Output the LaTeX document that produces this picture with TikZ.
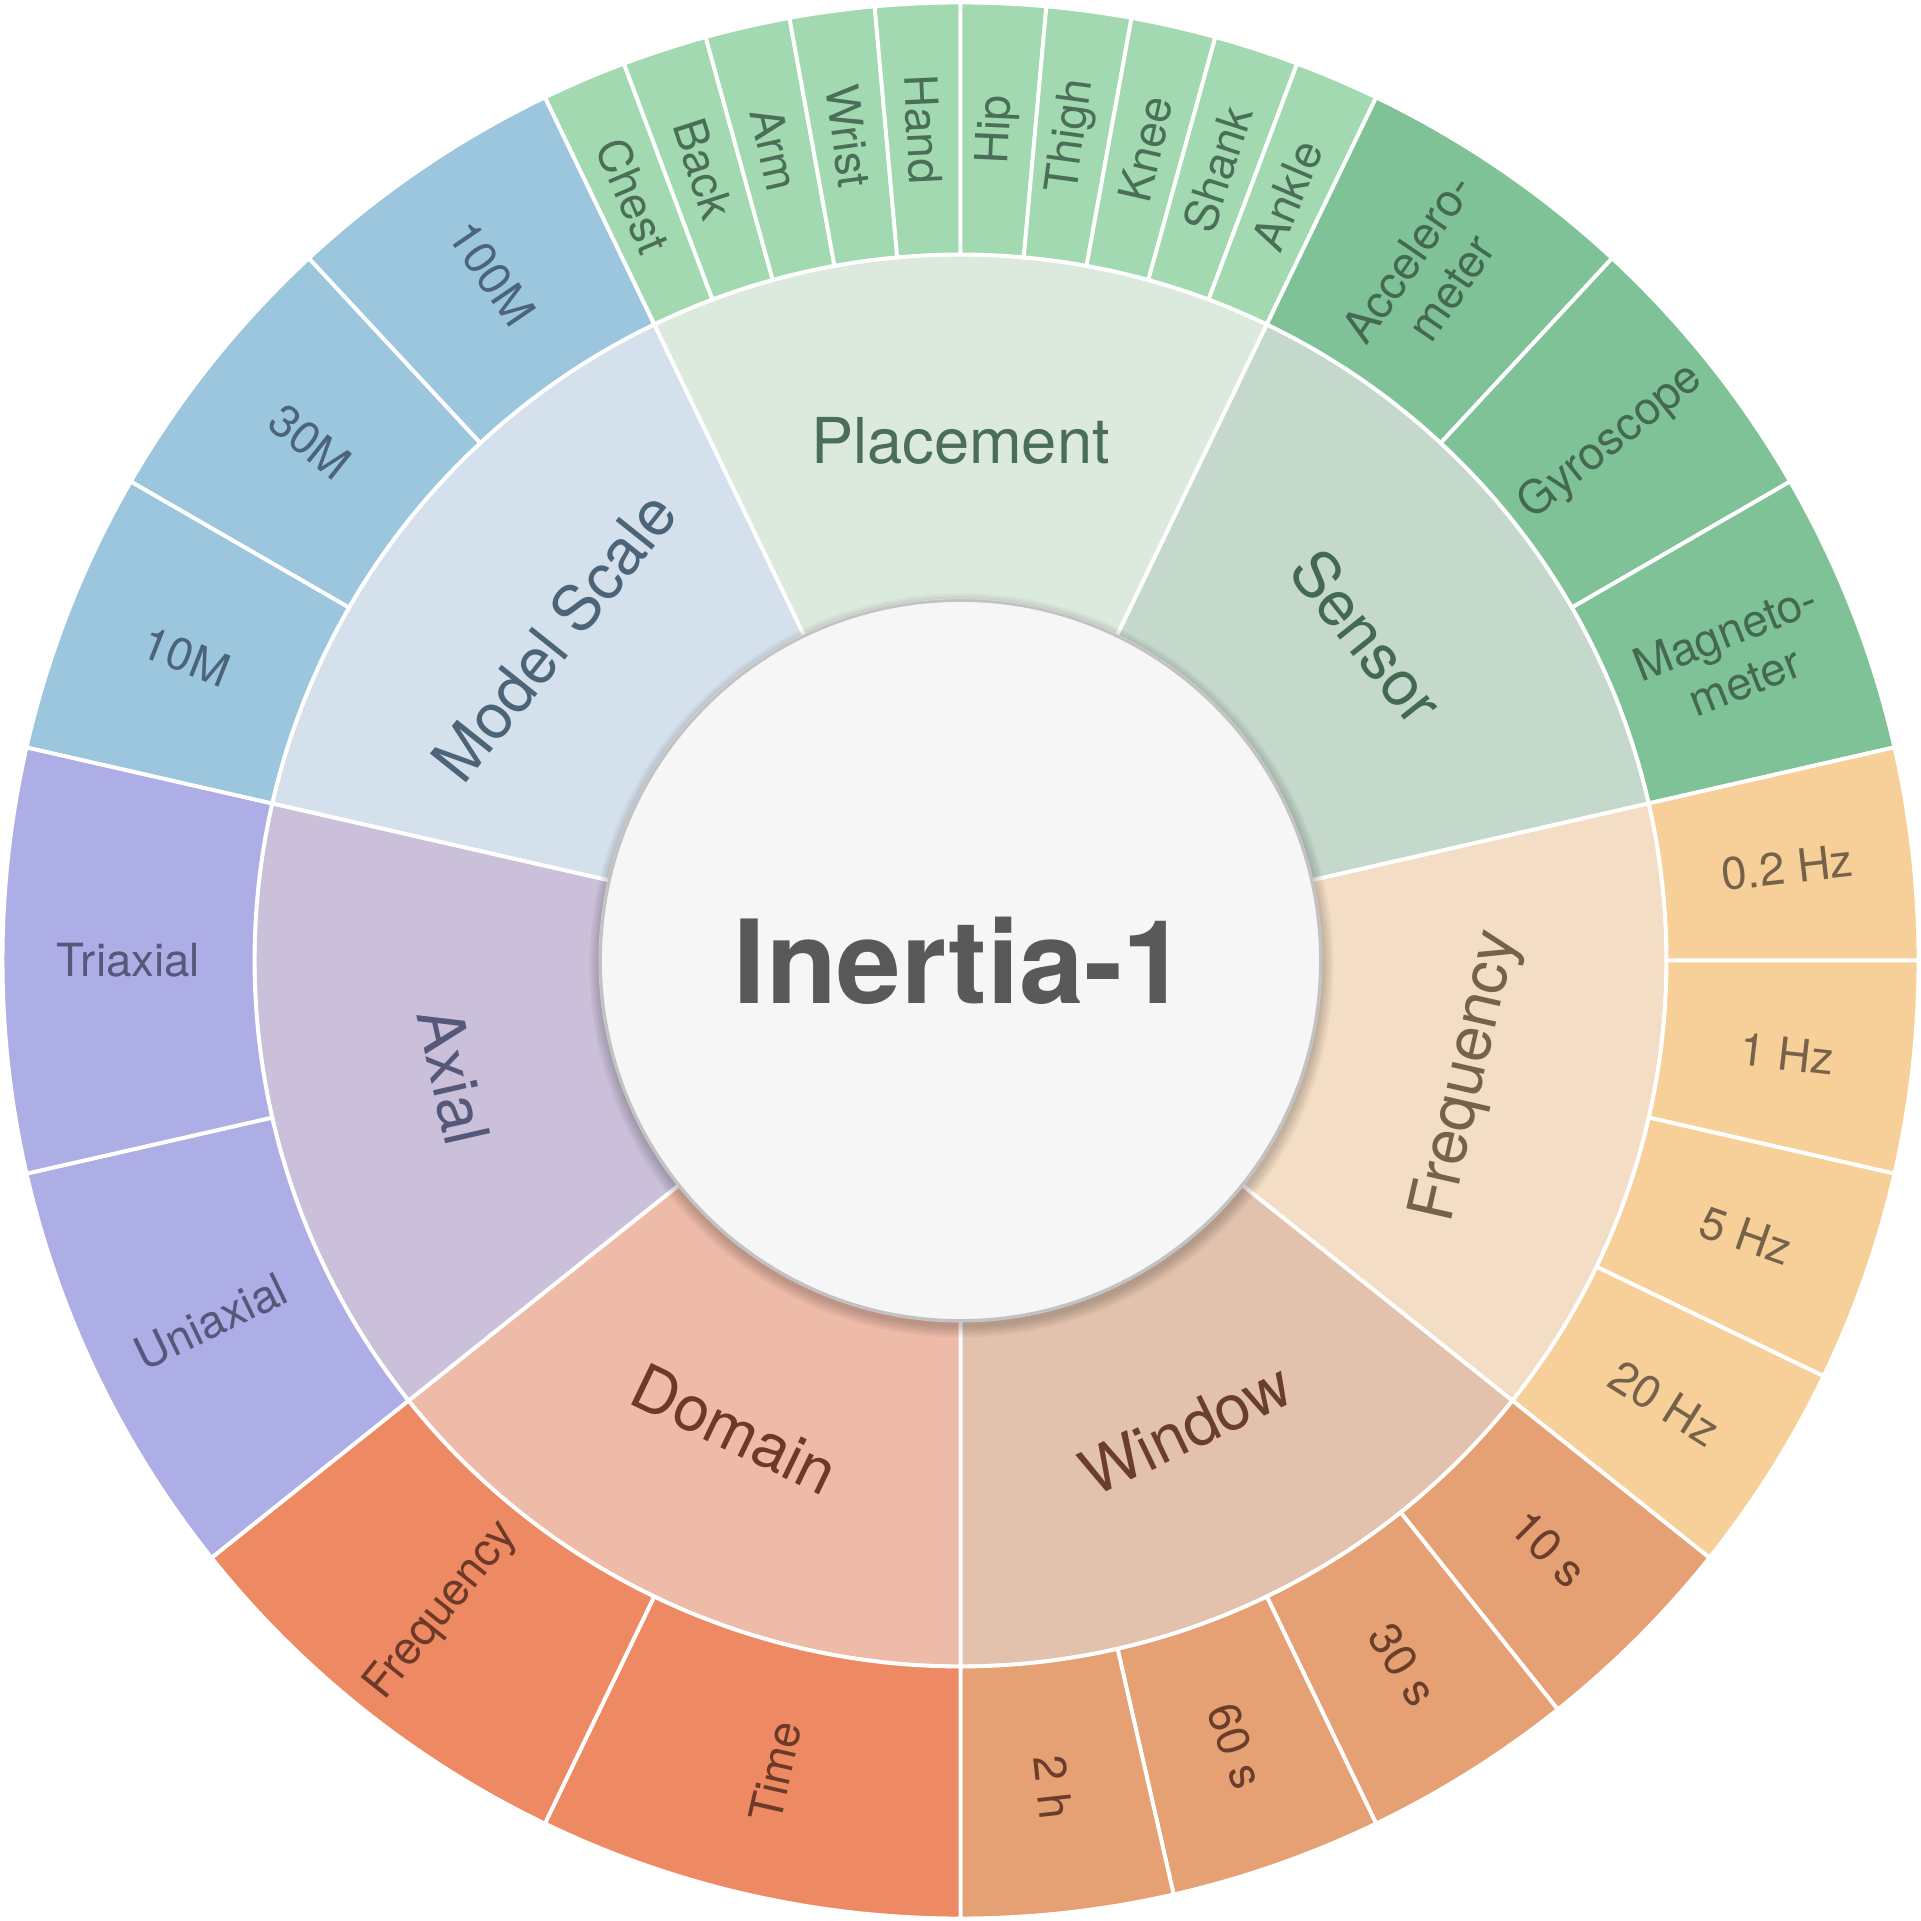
\documentclass[tikz,border=0pt]{standalone}
\usepackage{fontspec}
\setmainfont{TeX Gyre Heros}
\usepackage{xcolor}
\usepackage{tikz}

\definecolor{plIn}{HTML}{DCEADD}
\definecolor{plOut}{HTML}{A2D9B0}
\definecolor{plTxt}{HTML}{4A6E58}
\definecolor{seIn}{HTML}{C4D8CB}
\definecolor{seOut}{HTML}{80C297}
\definecolor{seTxt}{HTML}{436A51}
\definecolor{frIn}{HTML}{F4DDC5}
\definecolor{frOut}{HTML}{F7CF98}
\definecolor{frTxt}{HTML}{76624A}
\definecolor{wiIn}{HTML}{E3C2AD}
\definecolor{wiOut}{HTML}{E5A074}
\definecolor{wiTxt}{HTML}{6B3D2B}
\definecolor{doIn}{HTML}{EEBBA8}
\definecolor{doOut}{HTML}{EE8A63}
\definecolor{doTxt}{HTML}{6E3A28}
\definecolor{axIn}{HTML}{CAC0D9}
\definecolor{axOut}{HTML}{AEAEE6}
\definecolor{axTxt}{HTML}{555878}
\definecolor{msIn}{HTML}{D4E0EC}
\definecolor{msOut}{HTML}{9CC6DE}
\definecolor{msTxt}{HTML}{4B6477}
\definecolor{hubFill}{HTML}{F6F6F6}
\definecolor{hubLine}{HTML}{C2C2C2}
\definecolor{hubTxt}{HTML}{595959}

% one category: inner wedge, its label, and its outer parts
% #1 colour prefix, #2 start angle, #3 number of parts, #4 category, #5 parts
\newcommand{\ringcat}[5]{%
  \pgfmathsetmacro{\catend}{#2-360/7}
  \pgfmathsetmacro{\catmid}{#2-180/7}
  \pgfmathsetmacro{\partw}{360/7/#3}
  \pgfmathsetmacro{\catrot}{sin(\catmid)>0 ? \catmid-90 : \catmid+90}
  \filldraw[seg, fill=#1In] (#2:3.6) arc[start angle=#2, end angle=\catend, radius=3.6]
    -- (\catend:7.06) arc[start angle=\catend, end angle=#2, radius=7.06] -- cycle;
  \node[catlabel, text=#1Txt, rotate=\catrot] (#1-cat) at (\catmid:5.2) {#4};
  \foreach \part [count=\k from 0] in {#5} {
    \pgfmathsetmacro{\pa}{#2-\k*\partw}
    \pgfmathsetmacro{\pb}{\pa-\partw}
    \pgfmathsetmacro{\pmid}{\pa-\partw/2}
    \pgfmathsetmacro{\prot}{cos(\pmid)<0 ? \pmid+180 : \pmid}
    \filldraw[seg, fill=#1Out] (\pa:7.06) arc[start angle=\pa, end angle=\pb, radius=7.06]
      -- (\pb:9.58) arc[start angle=\pb, end angle=\pa, radius=9.58] -- cycle;
    \node[sublabel, text=#1Txt, rotate=\prot] (#1-\k) at (\pmid:8.32) {\part};
  }%
}

\begin{document}
\begin{tikzpicture}[
    seg/.style={draw=white, line width=1.1pt},
    catlabel/.style={font=\fontsize{18}{21}\selectfont, inner sep=0pt},
    sublabel/.style={font=\fontsize{13}{15}\selectfont, align=center, inner sep=0pt},
    hub/.style={circle, fill=hubFill, draw=hubLine, line width=0.8pt, minimum size=7.2cm,
                font=\fontsize{33}{38}\selectfont\bfseries, text=hubTxt}
]
\useasboundingbox (-9.605,-9.605) rectangle (9.605,9.605);

\ringcat{pl}{115.7142857}{10}{Placement}{Chest,Back,Arm,Wrist,Hand,Hip,Thigh,Knee,Shank,Ankle}
\ringcat{se}{64.2857143}{3}{Sensor}{Accelero-\\meter,Gyroscope,Magneto-\\meter}
\ringcat{fr}{12.8571429}{4}{Frequency}{0.2 Hz,1 Hz,5 Hz,20 Hz}
\ringcat{wi}{-38.5714286}{4}{Window}{10 s,30 s,60 s,2 h}
\ringcat{do}{-90}{2}{Domain}{Time,Frequency}
\ringcat{ax}{-141.4285714}{2}{Axial}{Uniaxial,Triaxial}
\ringcat{ms}{-192.8571429}{3}{Model Scale}{10M,30M,100M}

% soft shadow under the hub
\foreach \s in {1,...,6}
  \fill[black, opacity=0.035] (0.01,-0.05) circle ({3.6+0.02*\s});
\node[hub] (center) at (0,0) {Inertia-1};
\end{tikzpicture}
\end{document}
